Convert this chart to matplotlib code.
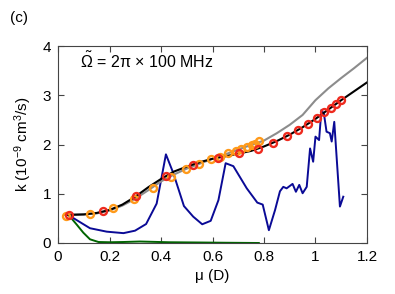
import matplotlib
matplotlib.use('Agg')
import matplotlib.pyplot as plt

plt.rcParams['font.family'] = ['Liberation Sans', 'DejaVu Sans']
plt.rcParams['mathtext.fontset'] = 'custom'
plt.rcParams['mathtext.rm'] = 'Liberation Sans'
plt.rcParams['mathtext.it'] = 'Liberation Sans:italic'

# black curve
mu_black = [0.03, 0.1, 0.15, 0.2, 0.25, 0.3, 0.35, 0.4, 0.45, 0.5, 0.55, 0.6, 0.65, 0.7,
            0.75, 0.8, 0.85, 0.9, 0.95, 1.0, 1.05, 1.1, 1.15, 1.2]
k_black = [0.57, 0.58, 0.61, 0.67, 0.78, 0.94, 1.13, 1.30, 1.45, 1.55, 1.64, 1.71, 1.76, 1.815,
           1.87, 1.96, 2.07, 2.20, 2.35, 2.52, 2.71, 2.90, 3.08, 3.26]

# gray curve
mu_gray = [0.03, 0.1, 0.15, 0.2, 0.25, 0.3, 0.35, 0.4, 0.45, 0.5, 0.55, 0.6, 0.65, 0.7,
           0.75, 0.8, 0.85, 0.9, 0.95, 1.0, 1.05, 1.1, 1.15, 1.2]
k_gray = [0.57, 0.58, 0.60, 0.66, 0.76, 0.90, 1.07, 1.25, 1.39, 1.51, 1.61, 1.71, 1.80, 1.90,
          1.99, 2.08, 2.23, 2.40, 2.60, 2.90, 3.14, 3.35, 3.55, 3.76]

# red markers
mu_red = [0.044, 0.174, 0.303, 0.419, 0.523, 0.62, 0.703, 0.775, 0.835, 0.888, 0.932,
          0.972, 1.005, 1.033, 1.059, 1.078, 1.098]
k_red = [0.56, 0.64, 0.95, 1.37, 1.59, 1.73, 1.82, 1.915, 2.04, 2.17, 2.29,
         2.42, 2.545, 2.65, 2.74, 2.82, 2.90]

# orange markers
mu_orange = [0.03, 0.124, 0.212, 0.295, 0.37, 0.438, 0.496, 0.549, 0.594, 0.629, 0.661,
             0.69, 0.712, 0.733, 0.752, 0.766, 0.779]
k_orange = [0.555, 0.595, 0.71, 0.887, 1.11, 1.35, 1.50, 1.61, 1.70, 1.75, 1.82,
            1.875, 1.915, 1.95, 1.98, 2.02, 2.07]

# blue curve
mu_blue = [0.044, 0.124, 0.189, 0.254, 0.299, 0.342, 0.383, 0.419, 0.448, 0.489, 0.525,
           0.56, 0.593, 0.623, 0.651, 0.681, 0.733, 0.774, 0.795, 0.819, 0.843, 0.862,
           0.875, 0.888, 0.911, 0.924, 0.937, 0.95, 0.966, 0.979, 0.991, 1.0, 1.014,
           1.023, 1.033, 1.043, 1.056, 1.063, 1.073, 1.095, 1.108]
k_blue = [0.555, 0.30, 0.23, 0.20, 0.25, 0.385, 0.80, 1.80, 1.415, 0.75, 0.535,
          0.38, 0.45, 0.87, 1.62, 1.56, 1.11, 0.82, 0.78, 0.26, 0.67, 1.05,
          1.14, 1.11, 1.20, 1.04, 1.18, 1.01, 1.14, 1.92, 1.65, 2.16, 2.09,
          2.70, 2.62, 2.26, 2.23, 2.06, 2.46, 0.74, 0.94]

# green curve
mu_green = [0.044, 0.073, 0.098, 0.124, 0.157, 0.2, 0.254, 0.318, 0.43, 0.55, 0.65, 0.78]
k_green = [0.55, 0.37, 0.21, 0.075, 0.02, 0.015, 0.02, 0.03, 0.015, 0.01, 0.005, 0.0]

fig = plt.figure(figsize=(3.95, 2.94), dpi=100)
ax = fig.add_axes([0.147, 0.1735, 0.782, 0.670])

ax.plot(mu_green, k_green, color='#006400', lw=1.4)
ax.plot(mu_blue, k_blue, color='#0a0a96', lw=1.4)
ax.plot(mu_gray, k_gray, color='#8c8c8c', lw=1.5)
ax.plot(mu_black, k_black, color='black', lw=1.5)
ax.plot(mu_orange, k_orange, 'o', ms=5, mfc='none', mec='#ff9a1a', mew=1.7)
ax.plot(mu_red, k_red, 'o', ms=5, mfc='none', mec='#ee2a1e', mew=1.7)

ax.set_xlim(0, 1.2)
ax.set_ylim(0, 4)
ax.set_xticks([0, 0.2, 0.4, 0.6, 0.8, 1.0, 1.2])
ax.set_xticklabels(['0', '0.2', '0.4', '0.6', '0.8', '1', '1.2'])
ax.set_yticks([0, 1, 2, 3, 4])
ax.tick_params(direction='in', top=True, right=True, length=4, labelsize=11, pad=5,
               color='#444444')
for s in ax.spines.values():
    s.set_color('#444444')

ax.set_xlabel('μ (D)', fontsize=11, labelpad=4)
ax.set_ylabel(r'k (10$^{-9}$ cm$^3$/s)', fontsize=11, labelpad=6)
ax.text(0.07, 0.925, r'$\tilde{\Omega}$ = 2π × 100 MHz', transform=ax.transAxes,
        fontsize=11.5, va='center')
fig.text(0.025, 0.925, '(c)', fontsize=11)

fig.savefig('out.png', dpi=100)
